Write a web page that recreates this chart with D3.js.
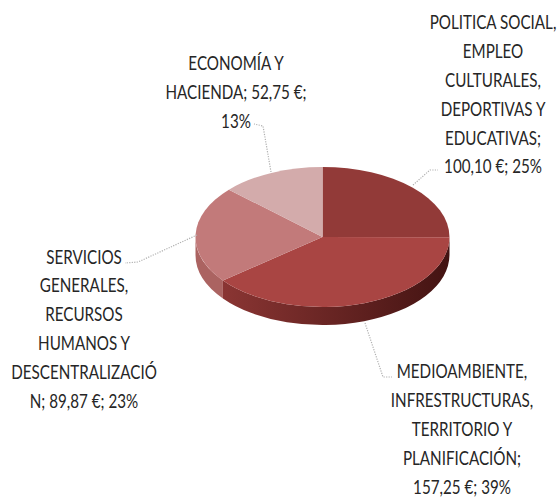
<!DOCTYPE html>
<html>
<head>
<meta charset="utf-8">
<script src="https://cdn.jsdelivr.net/npm/d3@7"></script>
<style>
html, body { margin: 0; padding: 0; background: #fff; }
svg { display: block; }
</style>
</head>
<body>
<div id="chart"></div>
<script>
// values in euros, clockwise from 12 o'clock
const categories = ["Politica", "Medioambiente", "Servicios", "Economia"];
const values = [100.10, 157.25, 89.87, 52.75];
const topColors = ["#923a38", "#a94543", "#c27a7a", "#d3abab"];
const sideColors = [
    ["#6d2422", "#6d2422"],
    ["#8a3533", "#431312"],
    ["#ab6361", "#a65c5a"],
    ["#a88", "#a88"]
];
const labelLines = [
    ["POLITICA SOCIAL,", "EMPLEO", "CULTURALES,", "DEPORTIVAS Y", "EDUCATIVAS;", "100,10 €; 25%"],
    ["MEDIOAMBIENTE,", "INFRESTRUCTURAS,", "TERRITORIO Y", "PLANIFICACIÓN;", "157,25 €; 39%"],
    ["SERVICIOS", "GENERALES,", "RECURSOS", "HUMANOS Y", "DESCENTRALIZACIÓ", "N; 89,87 €; 23%"],
    ["ECONOMÍA Y", "HACIENDA; 52,75 €;", "13%"]
];
const labelAnchors = [[493, 29], [462, 378], [84, 263.5], [236, 70]];
const leaders = [
    [[413, 185], [430, 170], [438, 170]],
    [[365, 323], [383, 377], [392, 377]],
    [[197, 235], [138, 262], [125, 263]],
    [[271, 172], [263, 126], [254, 124]]
];

const width = 560, height = 498;
const cx = 322.5, cy = 237, rx = 127, ry = 70, depth = 18;
const lineHeight = 28.9;
const textSquash = 0.76; // Lato is wider than the original face

const svg = d3.select("#chart").append("svg")
    .attr("width", width)
    .attr("height", height);

const slices = d3.pie().sort(null)(values);

// side wall gradients run left to right across the whole pie
const defs = svg.append("defs");
sideColors.forEach((c, i) => {
    const grad = defs.append("linearGradient")
        .attr("id", `side-${i}`)
        .attr("gradientUnits", "userSpaceOnUse")
        .attr("x1", cx + rx * Math.sin(slices[i].endAngle))
        .attr("x2", cx + rx)
        .attr("y1", 0).attr("y2", 0);
    grad.append("stop").attr("offset", 0).attr("stop-color", c[0]);
    grad.append("stop").attr("offset", 1).attr("stop-color", c[1]);
});

function ellipsePoint(a, dy) {
    return [cx + rx * Math.sin(a), cy - ry * Math.cos(a) + dy];
}

// wall of one slice, only the part on the front half of the ellipse
function sidePath(d) {
    const a0 = Math.max(d.startAngle, Math.PI / 2);
    const a1 = Math.min(d.endAngle, 3 * Math.PI / 2);
    if (a1 <= a0) return null;
    const p0 = ellipsePoint(a0, 0), p1 = ellipsePoint(a1, 0);
    const q0 = ellipsePoint(a0, depth), q1 = ellipsePoint(a1, depth);
    return `M${p0}A${rx},${ry} 0 0 1 ${p1}L${q1}A${rx},${ry} 0 0 0 ${q0}Z`;
}

svg.append("g").attr("class", "sides")
    .selectAll("path")
    .data(slices.filter(d => sidePath(d)))
    .enter().append("path")
    .attr("d", sidePath)
    .attr("fill", d => `url(#side-${d.index})`);

const unitArc = d3.arc().innerRadius(0).outerRadius(1);

svg.append("g").attr("class", "tops")
    .attr("transform", `translate(${cx},${cy}) scale(${rx},${ry})`)
    .selectAll("path")
    .data(slices)
    .enter().append("path")
    .attr("d", unitArc)
    .attr("fill", d => topColors[d.index]);

svg.append("g").attr("class", "leaders")
    .selectAll("path")
    .data(leaders)
    .enter().append("path")
    .attr("d", d3.line())
    .attr("fill", "none")
    .attr("stroke", "#b0b0b0")
    .attr("stroke-width", 1.2)
    .attr("stroke-dasharray", "1.2 1.3");

const labels = svg.append("g").attr("class", "labels")
    .selectAll("text")
    .data(labelLines)
    .enter().append("text")
    .attr("transform", (d, i) => `translate(${labelAnchors[i]}) scale(${textSquash},1)`)
    .attr("text-anchor", "middle")
    .style("font-family", "Lato, 'Open Sans', sans-serif")
    .style("font-size", "20px")
    .style("fill", "#262626");

labels.selectAll("tspan")
    .data(d => d)
    .enter().append("tspan")
    .attr("x", 0)
    .attr("dy", (d, i) => i ? lineHeight : 0)
    .text(d => d);
</script>
</body>
</html>
